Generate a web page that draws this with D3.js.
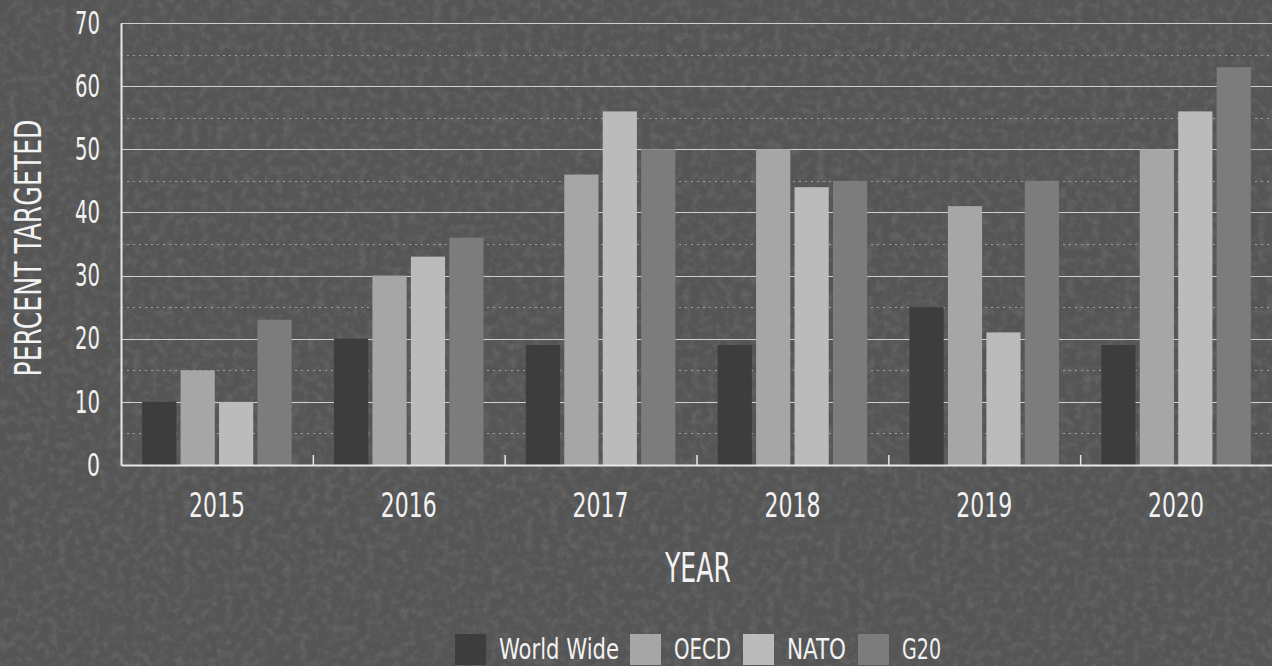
<!DOCTYPE html>
<html><head><meta charset="utf-8">
<script src="https://cdn.jsdelivr.net/npm/d3@7"></script>
<style>html,body{margin:0;padding:0;background:#555;}svg{display:block;}</style>
</head><body>
<svg id="chart" width="1272" height="666"></svg>
<script>
const years = ["2015","2016","2017","2018","2019","2020"];
const seriesNames = ["World Wide","OECD","NATO","G20"];
const worldWide = [10,20,19,19,25,19];
const oecd = [15,30,46,50,41,50];
const nato = [10,33,56,44,21,56];
const g20 = [23,36,50,45,45,63];
const yTicks = [0,10,20,30,40,50,60,70];
const colors = ["#3d3d3d","#a6a6a6","#bbbbbb","#7c7c7c"];

const seriesValues = [worldWide, oecd, nato, g20];
const W = 1272, H = 666;
const m = {left:121, right:0, top:23, bottom:201};
const svg = d3.select("#chart");
const font = "'Liberation Sans Narrow','DejaVu Sans Condensed',sans-serif";

// background with noise texture
const defs = svg.append("defs");
const f = defs.append("filter").attr("id","noise").attr("x",0).attr("y",0).attr("width","100%").attr("height","100%");
f.append("feTurbulence").attr("type","fractalNoise").attr("baseFrequency",0.12).attr("numOctaves",3).attr("seed",4);
f.append("feColorMatrix").attr("type","matrix").attr("values","0 0 0 0 0.4  0 0 0 0 0.4  0 0 0 0 0.4  0 0 0 1.2 -0.5");
svg.append("rect").attr("width",W).attr("height",H).attr("fill","#555555");
svg.append("rect").attr("width",W).attr("height",H).attr("filter","url(#noise)").attr("opacity",0.35);

const x0 = d3.scaleBand().domain(years).range([m.left, W - m.right]).paddingInner(0).paddingOuter(0);
const x1 = d3.scaleBand().domain(seriesNames).range([0, x0.bandwidth()]).paddingInner(0.11).paddingOuter(0.55);
const y = d3.scaleLinear().domain([0,70]).range([H - m.bottom, m.top]);

const g = svg.append("g");
// dotted half grid
const halfTicks = d3.range(5,70,10);
g.selectAll("line.half").data(halfTicks).join("line")
  .attr("x1",m.left).attr("x2",W).attr("y1",d=>Math.round(y(d))+0.5).attr("y2",d=>Math.round(y(d))+0.5)
  .attr("stroke","#bdbdbd").attr("stroke-width",1).attr("stroke-dasharray","2,4").attr("opacity",0.7);
// solid grid
g.selectAll("line.grid").data(yTicks.slice(1)).join("line")
  .attr("x1",m.left).attr("x2",W).attr("y1",d=>Math.round(y(d))+0.5).attr("y2",d=>Math.round(y(d))+0.5)
  .attr("stroke","#cfcfcf").attr("stroke-width",1.2);

// bars
const rows = years.map((yr,i)=>({year:yr, vals: seriesNames.map((s,j)=>({s, v: seriesValues[j][i], c: colors[j]}))}));
const grp = g.selectAll("g.yr").data(rows).join("g").attr("transform",d=>`translate(${x0(d.year)},0)`);
grp.selectAll("rect").data(d=>d.vals).join("rect")
  .attr("x",d=>x1(d.s)).attr("width",x1.bandwidth())
  .attr("y",d=>y(d.v)).attr("height",d=>y(0)-y(d.v)).attr("fill",d=>d.c);

// axes
const yAxis = d3.axisLeft(y).tickValues(yTicks).tickSize(0).tickPadding(21);
const ya = svg.append("g").attr("transform",`translate(${m.left},0)`).call(yAxis);
ya.select(".domain").attr("stroke","#e8e8e8").attr("stroke-width",2);
ya.selectAll("text").attr("fill","#f2f2f2").style("font-family",font).style("font-size","32px")
  .attr("textLength",d=>d===0?13:25).attr("lengthAdjust","spacingAndGlyphs");

const xAxis = d3.axisBottom(x0).tickSize(0).tickPadding(22);
const xa = svg.append("g").attr("transform",`translate(0,${y(0)})`).call(xAxis);
xa.select(".domain").attr("stroke","#e8e8e8").attr("stroke-width",2);
xa.selectAll("text").attr("fill","#f2f2f2").style("font-family",font).style("font-size","33px").attr("dy","0.9em")
  .attr("textLength",56).attr("lengthAdjust","spacingAndGlyphs");
// boundary ticks pointing up
svg.append("g").selectAll("line").data(years.slice(1)).join("line")
  .attr("x1",d=>x0(d)+0.5).attr("x2",d=>x0(d)+0.5).attr("y1",y(0)).attr("y2",y(0)-10)
  .attr("stroke","#e8e8e8").attr("stroke-width",1.5);

// axis titles
svg.append("text").attr("transform","translate(41,248) rotate(-90)").attr("text-anchor","middle")
  .attr("fill","#f2f2f2").style("font-family",font).style("font-size","38px")
  .attr("textLength",257).attr("lengthAdjust","spacingAndGlyphs").text("PERCENT TARGETED");
svg.append("text").attr("x",698).attr("y",582).attr("text-anchor","middle")
  .attr("fill","#f2f2f2").style("font-family",font).style("font-size","40px")
  .attr("textLength",66).attr("lengthAdjust","spacingAndGlyphs").text("YEAR");

// legend
const legX = [455,630,743,858];
const legW = [120,57,59,39];
const leg = svg.append("g").selectAll("g").data(seriesNames).join("g")
  .attr("transform",(d,i)=>`translate(${legX[i]},634)`);
leg.append("rect").attr("width",31).attr("height",31).attr("fill",(d,i)=>colors[i]);
leg.append("text").attr("x",44).attr("y",25).attr("fill","#f2f2f2")
  .style("font-family",font).style("font-size","29px")
  .attr("textLength",(d,i)=>legW[i]).attr("lengthAdjust","spacingAndGlyphs").text(d=>d);
</script>
</body></html>
